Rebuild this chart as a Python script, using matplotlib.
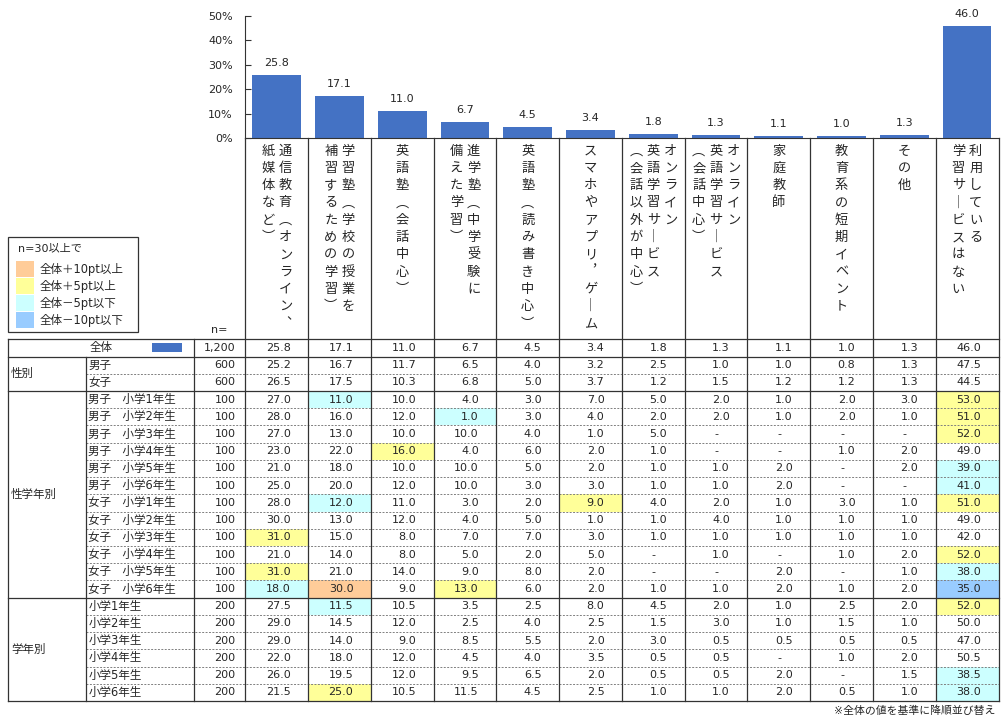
import numpy as np
import matplotlib
matplotlib.use("Agg")
import matplotlib.pyplot as plt
from matplotlib.patches import Rectangle

plt.rcParams['font.family'] = ['DejaVu Sans', 'Noto Sans CJK JP']

# ---- data ----
categories = [
    "通信教育（オンライン、\n紙媒体など）",
    "学習塾（学校の授業を\n補習するための学習）",
    "英語塾（会話中心）",
    "進学塾（中学受験に\n備えた学習）",
    "英語塾（読み書き中心）",
    "スマホやアプリ，ゲーム",
    "オンライン\n英語学習サービス\n（会話以外が中心）",
    "オンライン\n英語学習サービス\n（会話中心）",
    "家庭教師",
    "教育系の短期イベント",
    "その他",
    "利用している\n学習サービスはない",
]
total_label = "全体"
total_n = 1200
total_values = [25.8, 17.1, 11.0, 6.7, 4.5, 3.4, 1.8, 1.3, 1.1, 1.0, 1.3, 46.0]

group_names = ["性別", "性学年別", "学年別"]
group_sizes = [2, 12, 6]
row_labels = [
    "男子", "女子",
    "男子　小学1年生", "男子　小学2年生", "男子　小学3年生", "男子　小学4年生",
    "男子　小学5年生", "男子　小学6年生", "女子　小学1年生", "女子　小学2年生",
    "女子　小学3年生", "女子　小学4年生", "女子　小学5年生", "女子　小学6年生",
    "小学1年生", "小学2年生", "小学3年生", "小学4年生", "小学5年生", "小学6年生",
]
row_n = [600, 600] + [100] * 12 + [200] * 6
D = None  # "-"
row_values = [
    [25.2, 16.7, 11.7, 6.5, 4.0, 3.2, 2.5, 1.0, 1.0, 0.8, 1.3, 47.5],
    [26.5, 17.5, 10.3, 6.8, 5.0, 3.7, 1.2, 1.5, 1.2, 1.2, 1.3, 44.5],
    [27.0, 11.0, 10.0, 4.0, 3.0, 7.0, 5.0, 2.0, 1.0, 2.0, 3.0, 53.0],
    [28.0, 16.0, 12.0, 1.0, 3.0, 4.0, 2.0, 2.0, 1.0, 2.0, 1.0, 51.0],
    [27.0, 13.0, 10.0, 10.0, 4.0, 1.0, 5.0, D, D, D, D, 52.0],
    [23.0, 22.0, 16.0, 4.0, 6.0, 2.0, 1.0, D, D, 1.0, 2.0, 49.0],
    [21.0, 18.0, 10.0, 10.0, 5.0, 2.0, 1.0, 1.0, 2.0, D, 2.0, 39.0],
    [25.0, 20.0, 12.0, 10.0, 3.0, 3.0, 1.0, 1.0, 2.0, D, D, 41.0],
    [28.0, 12.0, 11.0, 3.0, 2.0, 9.0, 4.0, 2.0, 1.0, 3.0, 1.0, 51.0],
    [30.0, 13.0, 12.0, 4.0, 5.0, 1.0, 1.0, 4.0, 1.0, 1.0, 1.0, 49.0],
    [31.0, 15.0, 8.0, 7.0, 7.0, 3.0, 1.0, 1.0, 1.0, 1.0, 1.0, 42.0],
    [21.0, 14.0, 8.0, 5.0, 2.0, 5.0, D, 1.0, D, 1.0, 2.0, 52.0],
    [31.0, 21.0, 14.0, 9.0, 8.0, 2.0, D, D, 2.0, D, 1.0, 38.0],
    [18.0, 30.0, 9.0, 13.0, 6.0, 2.0, 1.0, 1.0, 2.0, 1.0, 2.0, 35.0],
    [27.5, 11.5, 10.5, 3.5, 2.5, 8.0, 4.5, 2.0, 1.0, 2.5, 2.0, 52.0],
    [29.0, 14.5, 12.0, 2.5, 4.0, 2.5, 1.5, 3.0, 1.0, 1.5, 1.0, 50.0],
    [29.0, 14.0, 9.0, 8.5, 5.5, 2.0, 3.0, 0.5, 0.5, 0.5, 0.5, 47.0],
    [22.0, 18.0, 12.0, 4.5, 4.0, 3.5, 0.5, 0.5, D, 1.0, 2.0, 50.5],
    [26.0, 19.5, 12.0, 9.5, 6.5, 2.0, 0.5, 0.5, 2.0, D, 1.5, 38.5],
    [21.5, 25.0, 10.5, 11.5, 4.5, 2.5, 1.0, 1.0, 2.0, 0.5, 1.0, 38.0],
]

legend_title = "n=30以上で"
legend_labels = ["全体＋10pt以上", "全体＋5pt以上", "全体－5pt以下", "全体－10pt以下"]
footnote = "※全体の値を基準に降順並び替え"

# ---- style ----
W, H = 1005, 725
bar_color = '#4472C4'
hl_colors = ['#FFCC99', '#FFFF99', '#CCFFFF', '#99CCFF']
tc = '#262626'
lc = '#333333'
fs = 8

fig = plt.figure(figsize=(W / 100, H / 100), dpi=100)
ax0 = fig.add_axes([0, 0, 1, 1])
ax0.set_xlim(0, W)
ax0.set_ylim(H, 0)
ax0.axis('off')

x_edges = np.linspace(245.3, 998.5, len(categories) + 1)
x_mid = (x_edges[:-1] + x_edges[1:]) / 2
n_rows = 1 + len(row_labels)
y_edges = np.linspace(339.3, 701.0, n_rows + 1)
y_mid = (y_edges[:-1] + y_edges[1:]) / 2
axis_y = 138.3
top_y = 15.7

# bar chart
axb = fig.add_axes([x_edges[0] / W, 1 - axis_y / H, (x_edges[-1] - x_edges[0]) / W, (axis_y - top_y) / H])
axb.bar(np.arange(len(categories)), total_values, width=0.776, color=bar_color)
axb.set_xlim(-0.5, len(categories) - 0.5)
axb.set_ylim(0, 50)
axb.set_yticks(range(0, 51, 10))
axb.set_yticklabels([f'{t}%' for t in range(0, 51, 10)], fontsize=fs, color=tc)
axb.set_xticks([])
axb.tick_params(axis='y', direction='in', length=4, width=0.8, color=lc, pad=9)
for s in ['top', 'right']:
    axb.spines[s].set_visible(False)
axb.spines['left'].set_color(lc)
axb.spines['bottom'].set_color(lc)
axb.spines['left'].set_linewidth(0.8)
axb.spines['bottom'].set_linewidth(0.8)
axb.patch.set_alpha(0)
for i, v in enumerate(total_values):
    axb.annotate(f'{v:.1f}', (i, v), xytext=(0, 5), textcoords='offset points',
                 ha='center', va='bottom', fontsize=fs, color=tc)

# vertical category labels
VERT = {'（': '︵', '）': '︶', '、': '︑', '，': '︐', 'ー': '｜'}
step = 17.3
for i, lab in enumerate(categories):
    cols = lab.split('\n')
    m = len(cols)
    for k, s in enumerate(cols):
        x = x_mid[i] + ((m - 1) / 2 - k) * step
        for j, ch in enumerate(s):
            ax0.text(x, 151 + j * step, VERT.get(ch, ch), ha='center', va='center',
                     fontsize=9.5, color=tc)

ax0.text(227.5, 330, 'n=', ha='right', va='center', fontsize=fs, color=tc)

# legend
ax0.add_patch(Rectangle((8.3, 236.7), 130, 95.6, fill=False, ec=lc, lw=0.9))
ax0.text(18.3, 248.3, legend_title, va='center', fontsize=fs, color=tc)
for k, (lab, col) in enumerate(zip(legend_labels, hl_colors)):
    yc = 269 + k * 17
    ax0.add_patch(Rectangle((16, yc - 8), 18, 16, fc=col, ec='none'))
    ax0.text(40, yc, lab, va='center', fontsize=8.3, color=tc)

# highlights
for r, vals in enumerate(row_values):
    if row_n[r] < 30:
        continue
    for c, v in enumerate(vals):
        if v is None:
            continue
        d = round(v - total_values[c], 1)
        col = None
        if d >= 10:
            col = hl_colors[0]
        elif d >= 5:
            col = hl_colors[1]
        elif d <= -10:
            col = hl_colors[3]
        elif d <= -5:
            col = hl_colors[2]
        if col:
            ax0.add_patch(Rectangle((x_edges[c], y_edges[r + 1]), x_edges[c + 1] - x_edges[c],
                                    y_edges[r + 2] - y_edges[r + 1], fc=col, ec='none', zorder=0))

# table text
val_pad = 17.5
ax0.text(90, y_mid[0], total_label, va='center', fontsize=8.3, color=tc)
ax0.add_patch(Rectangle((152.3, y_mid[0] - 4.5), 30, 9, fc=bar_color, ec='none'))
ax0.text(235.7, y_mid[0], f'{total_n:,}', ha='right', va='center', fontsize=fs, color=tc)
for c, v in enumerate(total_values):
    ax0.text(x_edges[c + 1] - val_pad, y_mid[0], f'{v:.1f}', ha='right', va='center', fontsize=fs, color=tc)

for r, (lab, n, vals) in enumerate(zip(row_labels, row_n, row_values)):
    y = y_mid[r + 1]
    ax0.text(88.5, y, lab, va='center', fontsize=8.3, color=tc)
    ax0.text(235.7, y, f'{n:,}', ha='right', va='center', fontsize=fs, color=tc)
    for c, v in enumerate(vals):
        if v is None:
            ax0.text(x_edges[c + 1] - 31, y, '-', ha='center', va='center', fontsize=fs, color=tc)
        else:
            ax0.text(x_edges[c + 1] - val_pad, y, f'{v:.1f}', ha='right', va='center', fontsize=fs, color=tc)

# group labels and lines
start = 1
solid_rows = [0, 1]
for g, size in zip(group_names, group_sizes):
    y = (y_edges[start] + y_edges[start + size]) / 2
    ax0.text(11, y, g, va='center', fontsize=8.3, color=tc)
    for k in range(start + 1, start + size):
        ax0.plot([86.3, x_edges[-1]], [y_edges[k]] * 2, color='#808080', lw=0.7,
                 linestyle=(0, (2, 1.5)))
    start += size
    solid_rows.append(start)

for k in solid_rows:
    ax0.plot([8.3, x_edges[-1]], [y_edges[k]] * 2, color=lc, lw=0.9)
for x in [8.3, 194.3]:
    ax0.plot([x, x], [y_edges[0], y_edges[-1]], color=lc, lw=0.9)
ax0.plot([86.3, 86.3], [y_edges[1], y_edges[-1]], color=lc, lw=0.9)
for x in x_edges:
    ax0.plot([x, x], [axis_y, y_edges[-1]], color=lc, lw=0.9)

ax0.text(995, 710.5, footnote, ha='right', va='center', fontsize=7.8, color=tc)

fig.savefig('out.png', dpi=100)
